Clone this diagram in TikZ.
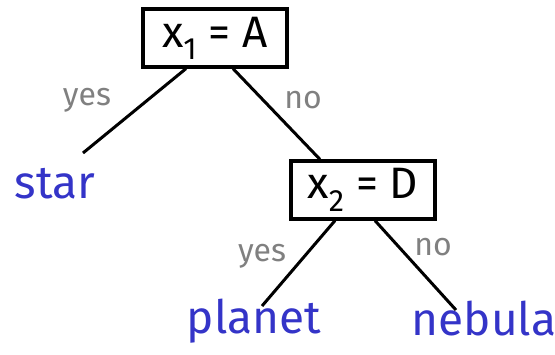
\documentclass[tikz,border=0pt]{standalone}
\usepackage{fontspec}
\setmainfont{Fira Sans}
\definecolor{leafblue}{RGB}{52,52,200}
\definecolor{edgegray}{RGB}{128,128,128}
\begin{document}
\begin{tikzpicture}[x=1pt,y=-1pt,
  testbox/.style={draw,line width=3.2pt,minimum width=144pt,minimum height=58pt,inner sep=0pt,font=\fontsize{44}{48}\selectfont},
  leaf/.style={text=leafblue,inner sep=0pt,font=\fontsize{46}{48}\selectfont},
  lbl/.style={text=edgegray,inner sep=0pt,font=\fontsize{32}{34}\selectfont},
  edge/.style={line width=3pt}]
\useasboundingbox (0,0) rectangle (555,354);
\node[testbox] (b1) at (215,38) {x\textsubscript{1} = A};
\node[testbox] (b2) at (363,190) {x\textsubscript{2} = D};
\coordinate (s) at (83,153);
\coordinate (p) at (262,306);
\coordinate (n) at (456,310);
\node[leaf,anchor=base] (star) at (55,198) {star};
\node[leaf,anchor=base] (planet) at (254,333) {planet};
\node[leaf,anchor=base] (nebula) at (484,335) {nebula};
\node[lbl] (y1) at (87,100) {yes};
\node[lbl] (n1) at (303,100) {no};
\node[lbl] (y2) at (262,256) {yes};
\node[lbl] (n2) at (433,247) {no};
\draw[edge] ([xshift=-29pt]b1.south) -- (s);
\draw[edge] ([xshift=18pt]b1.south) -- ([xshift=-43pt]b2.north);
\draw[edge] ([xshift=-28pt]b2.south) -- (p);
\draw[edge] ([xshift=12pt]b2.south) -- (n);
\end{tikzpicture}
\end{document}
